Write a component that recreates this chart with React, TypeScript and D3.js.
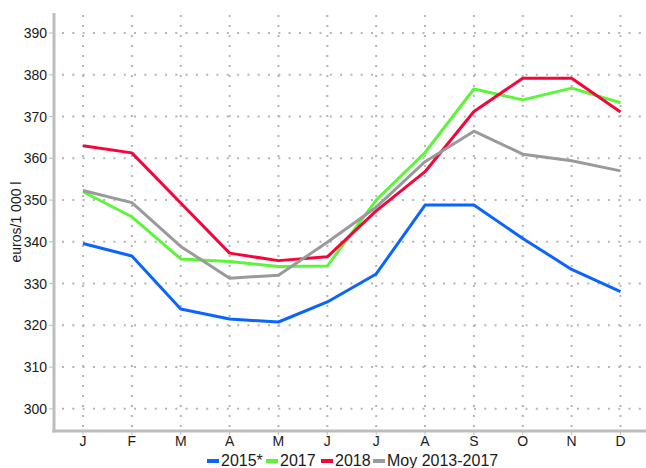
import React from "react";
import * as d3 from "d3";

const months = ["J", "F", "M", "A", "M", "J", "J", "A", "S", "O", "N", "D"];
const yTicks = [300, 310, 320, 330, 340, 350, 360, 370, 380, 390];
const s2015 = [339.6, 336.6, 323.9, 321.5, 320.8, 325.6, 332.3, 348.8, 348.8, 340.8, 333.4, 328.1];
const s2017 = [352.0, 346.0, 335.9, 335.3, 334.1, 334.2, 350.0, 361.4, 376.6, 374.0, 376.8, 373.3];
const s2018 = [363.0, 361.3, 349.3, 337.3, 335.5, 336.4, 347.4, 356.8, 371.2, 379.2, 379.2, 371.1];
const sMoy = [352.3, 349.4, 338.9, 331.3, 332.0, 339.9, 348.3, 359.2, 366.5, 361.0, 359.4, 357.0];

const seriesNames = ["2015*", "2017", "2018", "Moy 2013-2017"];
const seriesValues = [s2015, s2017, s2018, sMoy];
const seriesColors = ["#0a64ff", "#5cf53a", "#f5053a", "#9a9a9a"];

const W = 646;
const H = 468;
const left = 54;
const right = 646;
const top = 13;
const bottom = 431;
const FONT = "'Liberation Sans', Arial, sans-serif";

export default function App() {
  const x = d3.scalePoint<number>().domain(d3.range(12)).range([83, 620.5]);
  const y = d3.scaleLinear().domain([294.7, 394.8]).range([bottom, top]);
  const line = d3
    .line<number>()
    .x((_, i) => x(i) as number)
    .y((d) => y(d));

  const legendX = [207, 266, 321, 373];

  return (
    <svg
      width={W}
      height={H}
      style={{ position: "absolute", left: 0, top: 0, background: "#fff" }}
      fontFamily={FONT}
    >
      {/* grid */}
      {yTicks.map((t) => (
        <line
          key={"h" + t}
          x1={left + 2}
          x2={right}
          y1={y(t)}
          y2={y(t)}
          stroke="#b5b5b5"
          strokeWidth={2}
          strokeDasharray="2 8.3"
          strokeDashoffset={-6}
        />
      ))}
      {months.map((m, i) => (
        <line
          key={"v" + i}
          x1={x(i)}
          x2={x(i)}
          y1={top + 2}
          y2={bottom - 1}
          stroke="#b5b5b5"
          strokeWidth={2}
          strokeDasharray="2 8"
        />
      ))}
      {/* axes */}
      <line x1={left} x2={left} y1={top} y2={bottom + 1.5} stroke="#bdbdbd" strokeWidth={3} />
      <line x1={left - 1.5} x2={right} y1={bottom} y2={bottom} stroke="#bdbdbd" strokeWidth={3} />
      {yTicks.map((t) => (
        <g key={"yt" + t}>
          <line x1={49} x2={left} y1={y(t)} y2={y(t)} stroke="#bdbdbd" strokeWidth={1} />
          <text x={47} y={y(t) + 5} textAnchor="end" fontSize={14} fill="#1a1a1a">
            {t}
          </text>
        </g>
      ))}
      {months.map((m, i) => (
        <g key={"xt" + i}>
          <line x1={x(i)} x2={x(i)} y1={bottom} y2={bottom + 4} stroke="#bdbdbd" strokeWidth={1} />
          <text x={x(i)} y={446} textAnchor="middle" fontSize={14} fill="#1a1a1a">
            {m}
          </text>
        </g>
      ))}
      <text
        transform={`translate(21,${(top + bottom) / 2}) rotate(-90)`}
        textAnchor="middle"
        fontSize={14}
        fill="#1a1a1a"
      >
        euros/1 000 l
      </text>
      {/* series */}
      {seriesValues.map((vals, k) => (
        <path
          key={"s" + k}
          d={line(vals) || ""}
          fill="none"
          stroke={seriesColors[k]}
          strokeWidth={3}
          strokeLinejoin="round"
        />
      ))}
      {/* legend */}
      {seriesNames.map((n, k) => (
        <g key={"l" + k}>
          <line
            x1={legendX[k]}
            x2={legendX[k] + 12}
            y1={461}
            y2={461}
            stroke={seriesColors[k]}
            strokeWidth={4}
          />
          <text x={legendX[k] + 14} y={465.5} fontSize={16} fill="#1a1a1a">
            {n}
          </text>
        </g>
      ))}
    </svg>
  );
}
